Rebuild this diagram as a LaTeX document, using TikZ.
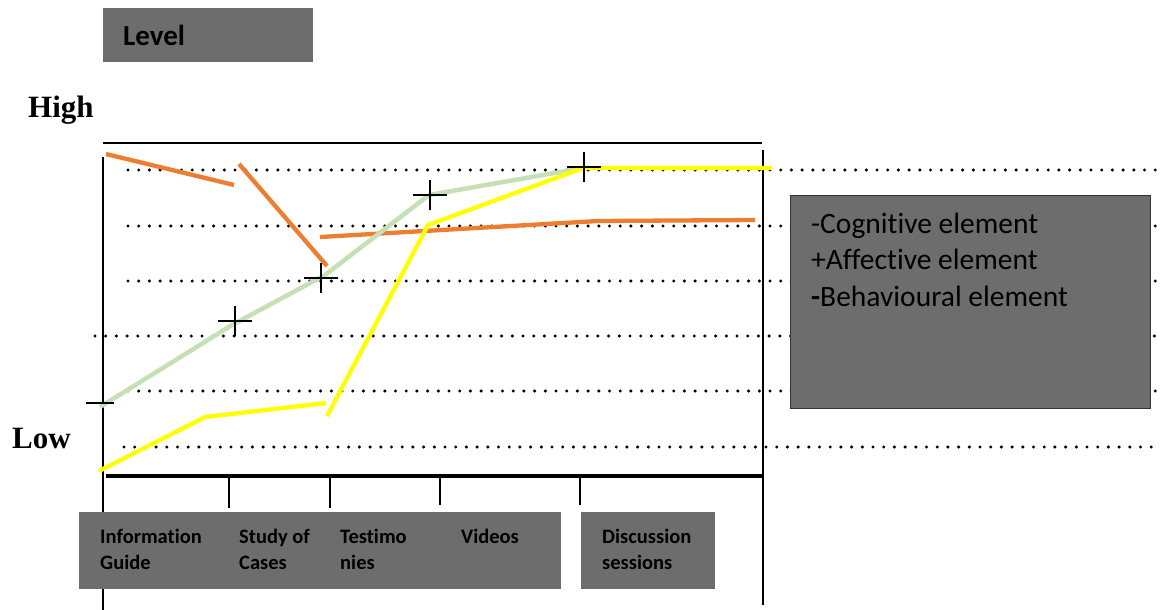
\documentclass[tikz,border=0pt]{standalone}
\usepackage{fontspec}
\setmainfont{Carlito}[Ligatures={NoCommon}]
\newfontfamily\serifbold{Liberation Serif}
\definecolor{boxgray}{RGB}{109,109,109}
\definecolor{lineorange}{RGB}{237,125,49}
\definecolor{linegreen}{RGB}{197,224,180}
\definecolor{lineyellow}{RGB}{255,255,0}
\begin{document}
\begin{tikzpicture}[x=1pt,y=-1pt,
  graybox/.style={fill=boxgray,draw=none},
  dots/.style={line width=3.4pt,line cap=round,dash pattern=on 0pt off 10.7pt},
  axis/.style={line width=2pt},
  tick/.style={line width=2pt},
  cogline/.style={lineorange,line width=4.3pt},
  affline/.style={linegreen,line width=4.5pt},
  behline/.style={lineyellow,line width=4.3pt},
  cross/.style={line width=2.2pt},
  axlabel/.style={anchor=base west,inner sep=0pt,font=\fontsize{31}{36}\selectfont\serifbold\bfseries},
  catlabel/.style={anchor=base west,inner sep=0pt,align=left,font=\fontsize{20.5}{26}\selectfont\bfseries}
]
\useasboundingbox (0,0) rectangle (1167,610);

% title box
\fill[graybox] (103,8) rectangle (313,62);
\node[anchor=base west,inner sep=0pt,font=\fontsize{29}{34}\selectfont\bfseries] (level) at (123,46) {Level};

% axis labels
\node[axlabel] (high) at (28,117) {High};
\node[axlabel] (low) at (12,448) {Low};

% dotted level lines
\draw[dots] (128,170) -- (1160,170);
\draw[dots] (128,226) -- (1160,226);
\draw[dots] (128,281) -- (1160,281);
\draw[dots] (95,336) -- (1160,336);
\draw[dots] (128,391) -- (1160,391);
\draw[dots] (124,447) -- (1160,447);

% frame
\draw[axis] (103,143) -- (762,143);
\draw[axis] (103,157) -- (103,610);
\draw[axis] (763,150) -- (763,605);
\draw[line width=3.5pt] (106,476) -- (763,476);
\foreach \tx/\ty in {229/508,330/508,440/505,580/505}
  \draw[tick] (\tx,476) -- (\tx,\ty);

% category boxes (base anchor of a two-line label sits on its last line)
\fill[graybox] (79,512) rectangle (561,589);
\fill[graybox] (581,512) rectangle (715,589);
\node[catlabel] (infoguide) at (100,569) {Information\\Guide};
\node[catlabel] (cases) at (239,569) {Study of\\Cases};
\node[catlabel] (testimonies) at (340,569) {Testimo\\nies};
\node[catlabel] (videos) at (461,543) {Videos};
\node[catlabel] (discussion) at (602,569) {Discussion\\sessions};

% legend box
\node[draw=black!80,line width=0.8pt,fill=boxgray,minimum width=360pt,minimum height=213pt,anchor=north west,inner sep=0pt] (legend) at (790,195) {};
\node[anchor=base west,inner sep=0pt,align=left,font=\fontsize{29.5}{36.5}\selectfont] (legendtext) at (811,306)
  {-Cognitive element\\+Affective element\\\textbf{-}Behavioural element};

% cognitive element (orange)
\coordinate (c1) at (106,154); \coordinate (c2) at (234,185);
\coordinate (c3) at (239,164); \coordinate (c4) at (327,266);
\coordinate (c5) at (320,237); \coordinate (c6) at (598,221); \coordinate (c7) at (755,220);
\draw[cogline] (c1) -- (c2);
\draw[cogline] (c3) -- (c4);
\draw[cogline] (c5) -- (c6) -- (c7);

% affective element (green)
\coordinate (a1) at (100,407); \coordinate (a2) at (232,325);
\coordinate (a3) at (325,275); \coordinate (a4) at (429,195); \coordinate (a5) at (583,168);
\draw[affline] (a1) -- (a2) -- (a3) -- (a4) -- (a5);

% behavioural element (yellow)
\coordinate (b1) at (99,471); \coordinate (b2) at (205,417); \coordinate (b3) at (326,403);
\coordinate (b4) at (327,416); \coordinate (b5) at (428,225); \coordinate (b6) at (583,168); \coordinate (b7) at (772,168);
\draw[behline] (b1) -- (b2) -- (b3);
\draw[behline] (b4) -- (b5) -- (b6) -- (b7);

% measurement marks
\draw[line width=1.5pt] (86,403) -- (114,403);
\foreach \mx/\my in {235/321,321/278,430/195,584/167}{
  \draw[cross] (\mx-17,\my) -- (\mx+17,\my);
  \draw[cross] (\mx,\my-15) -- (\mx,\my+15);
}
\end{tikzpicture}
\end{document}
